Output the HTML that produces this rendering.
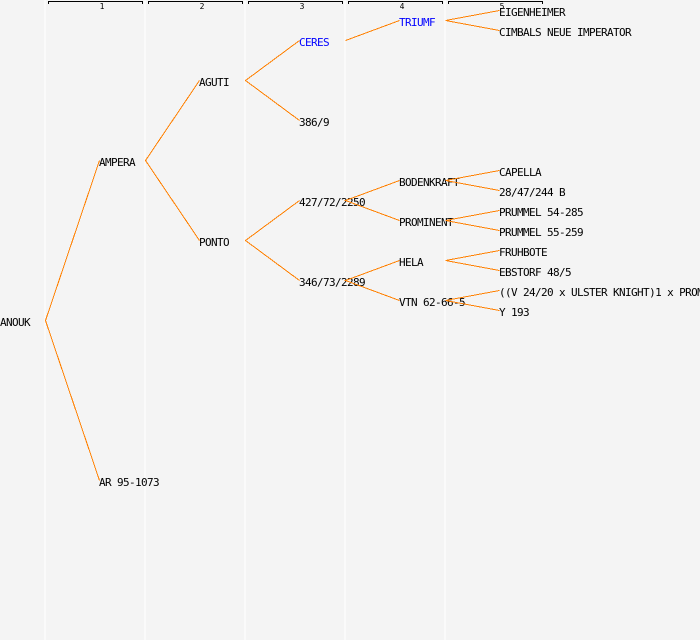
<!DOCTYPE html>
<html>
<head>
<meta charset="utf-8">
<style>
html,body{margin:0;padding:0;background:#f4f4f4;}
svg{display:block;}
text{font-family:"DejaVu Sans Mono",monospace;font-size:11px;letter-spacing:-0.62px;fill:#000;}
.n{font-size:8px;letter-spacing:0;text-anchor:middle;}
.b{fill:#0000ff;}
</style>
</head>
<body>
<svg width="700" height="640" viewBox="0 0 700 640" xmlns="http://www.w3.org/2000/svg">
<rect width="700" height="640" fill="#f4f4f4"/>
<g fill="#ffffff" shape-rendering="crispEdges">
<rect x="44.5" y="0" width="1" height="640"/>
<rect x="144.5" y="0" width="1" height="640"/>
<rect x="244.5" y="0" width="1" height="640"/>
<rect x="344.5" y="0" width="1" height="640"/>
<rect x="444.5" y="0" width="1" height="640"/>
</g>
<g fill="none" stroke="#000" stroke-width="1" shape-rendering="crispEdges">
<path d="M48.5 4V1.5H142.5V4"/>
<path d="M148.5 4V1.5H242.5V4"/>
<path d="M248.5 4V1.5H342.5V4"/>
<path d="M348.5 4V1.5H442.5V4"/>
<path d="M448.5 4V1.5H542.5V4"/>
</g>
<text class="n" x="102" y="9">1</text>
<text class="n" x="202" y="9">2</text>
<text class="n" x="302" y="9">3</text>
<text class="n" x="402" y="9">4</text>
<text class="n" x="502" y="9">5</text>

<text x="0" y="326">ANOUK</text>
<text x="99" y="166">AMPERA</text>
<text x="99" y="486">AR 95-1073</text>
<text x="199" y="86">AGUTI</text>
<text x="199" y="246">PONTO</text>
<text class="b" x="299" y="46">CERES</text>
<text x="299" y="126">386/9</text>
<text x="299" y="206">427/72/2250</text>
<text x="299" y="286">346/73/2289</text>
<text class="b" x="399" y="26">TRIUMF</text>
<text x="399" y="186">BODENKRAFT</text>
<text x="399" y="226">PROMINENT</text>
<text x="399" y="266">HELA</text>
<text x="399" y="306">VTN 62-66-5</text>
<text x="499" y="16">EIGENHEIMER</text>
<text x="499" y="36">CIMBALS NEUE IMPERATOR</text>
<text x="499" y="176">CAPELLA</text>
<text x="499" y="196">28/47/244 B</text>
<text x="499" y="216">PRUMMEL 54-285</text>
<text x="499" y="236">PRUMMEL 55-259</text>
<text x="499" y="256">FRUHBOTE</text>
<text x="499" y="276">EBSTORF 48/5</text>
<text x="499" y="296">((V 24/20 x ULSTER KNIGHT)1 x PROMINENT)</text>
<text x="499" y="316">Y 193</text>

<g fill="none" stroke="#ff8000" stroke-width="1" shape-rendering="crispEdges">
<path d="M99.5 160.5L45.5 320.5L99.5 480.5"/>
<path d="M199.5 80.5L145.5 160.5L199.5 240.5"/>
<path d="M299.5 40.5L245.5 80.5L299.5 120.5"/>
<path d="M299.5 200.5L245.5 240.5L299.5 280.5"/>
<path d="M345.5 40.5L399.5 20.5"/>
<path d="M399.5 180.5L345.5 200.5L399.5 220.5"/>
<path d="M399.5 260.5L345.5 280.5L399.5 300.5"/>
<path d="M499.5 10.5L445.5 20.5L499.5 30.5"/>
<path d="M499.5 170.5L445.5 180.5L499.5 190.5"/>
<path d="M499.5 210.5L445.5 220.5L499.5 230.5"/>
<path d="M499.5 250.5L445.5 260.5L499.5 270.5"/>
<path d="M499.5 290.5L445.5 300.5L499.5 310.5"/>
</g>
</svg>
</body>
</html>
